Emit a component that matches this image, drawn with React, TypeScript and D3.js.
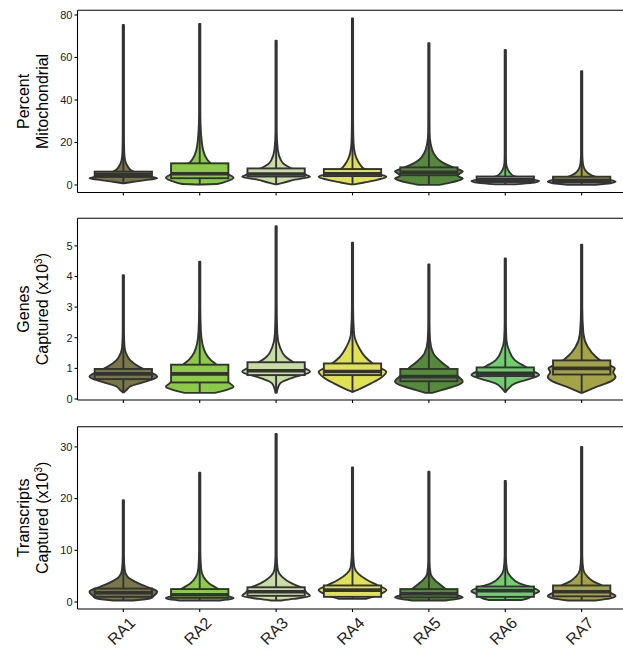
import React from "react";
import * as d3 from "d3";

const categories = ["RA1", "RA2", "RA3", "RA4", "RA5", "RA6", "RA7"];
const fillColors = ["#77774a", "#8bcb46", "#c9dca3", "#dfe255", "#568a3b", "#70cf6c", "#a4a447"];

// box stats per category: [lowerWhisker, q1, median, q3, max]
const mitoBoxes = [
  [0.8, 3.8, 4.8, 6.3, 75.3],
  [0.2, 3.2, 5.3, 10.2, 75.8],
  [0.4, 4.0, 5.2, 7.8, 67.9],
  [0.3, 4.2, 5.3, 7.5, 78.4],
  [0.1, 4.6, 6.0, 8.3, 66.7],
  [0.3, 1.4, 2.4, 4.0, 63.5],
  [0.1, 1.3, 2.2, 3.9, 53.6],
];
// violin profiles: [value, relative half-width]
const mitoViolins = [
  [[0.8, 0], [1.5, 0.3], [2.5, 0.75], [3.2, 1.0], [4.2, 0.7], [5.5, 0.4], [7, 0.22], [9, 0.12], [11.8, 0.05], [16, 0.025], [25, 0.012], [75.3, 0]],
  [[0.2, 0.1], [0.6, 0.55], [1.5, 0.75], [3.4, 1.0], [5, 0.85], [8, 0.55], [10.2, 0.32], [12, 0.22], [16.5, 0.1], [24, 0.04], [33, 0.018], [45, 0.01], [75.8, 0]],
  [[0.3, 0], [1, 0.2], [2.5, 0.55], [3.9, 1.0], [5, 0.85], [6.5, 0.6], [7.8, 0.45], [8.6, 0.36], [10, 0.22], [11.8, 0.14], [16.5, 0.05], [25, 0.015], [67.9, 0]],
  [[0.3, 0.05], [1.2, 0.35], [2.5, 0.75], [3.9, 1.0], [5, 0.8], [6.5, 0.5], [7.5, 0.36], [10.2, 0.2], [12.5, 0.12], [14.9, 0.07], [20, 0.03], [30, 0.012], [78.4, 0]],
  [[0.05, 0.3], [1, 0.6], [2, 0.85], [3.1, 1.0], [4.2, 0.85], [5.2, 0.9], [6.3, 1.0], [7.5, 0.85], [8.3, 0.72], [10.2, 0.45], [12, 0.28], [14.9, 0.14], [19.6, 0.05], [25, 0.02], [35, 0.01], [66.7, 0]],
  [[0.3, 0.3], [1.0, 0.8], [1.9, 1.0], [2.6, 0.8], [3.5, 0.45], [4.2, 0.25], [5.5, 0.15], [7.1, 0.08], [10.2, 0.025], [15, 0.012], [63.5, 0]],
  [[0.1, 0.4], [0.8, 0.85], [1.6, 1.0], [2.5, 0.8], [3.5, 0.5], [4.7, 0.28], [7.1, 0.1], [10.2, 0.035], [15, 0.012], [53.6, 0]],
];

const genesBoxes = [
  [0.2, 0.65, 0.82, 0.98, 4.04],
  [0.2, 0.54, 0.82, 1.12, 4.48],
  [0.2, 0.78, 0.92, 1.2, 5.64],
  [0.2, 0.78, 0.9, 1.16, 5.1],
  [0.2, 0.58, 0.73, 0.98, 4.39],
  [0.2, 0.75, 0.84, 1.03, 4.59],
  [0.2, 0.8, 1.0, 1.26, 5.04],
];
const genesViolins = [
  [[0.22, 0], [0.3, 0.1], [0.4, 0.19], [0.55, 0.6], [0.73, 1.0], [0.9, 0.75], [1.05, 0.47], [1.27, 0.2], [1.49, 0.08], [1.7, 0.035], [2.2, 0.015], [4.04, 0]],
  [[0.2, 0.45], [0.3, 0.8], [0.4, 1.0], [0.5, 0.9], [0.7, 0.72], [0.9, 0.62], [1.11, 0.5], [1.3, 0.3], [1.5, 0.17], [1.8, 0.08], [2.2, 0.035], [3, 0.012], [4.48, 0]],
  [[0.2, 0], [0.35, 0.05], [0.51, 0.12], [0.7, 0.5], [0.89, 1.0], [1.05, 0.75], [1.22, 0.48], [1.38, 0.28], [1.7, 0.11], [2.14, 0.035], [3, 0.012], [5.64, 0]],
  [[0.24, 0], [0.35, 0.25], [0.51, 0.55], [0.7, 0.85], [0.89, 1.0], [1.05, 0.75], [1.16, 0.6], [1.38, 0.37], [1.7, 0.18], [2.14, 0.045], [3, 0.012], [5.1, 0]],
  [[0.2, 0.1], [0.3, 0.4], [0.45, 0.85], [0.57, 1.0], [0.75, 0.85], [1.0, 0.6], [1.16, 0.42], [1.49, 0.13], [1.92, 0.035], [2.5, 0.012], [4.39, 0]],
  [[0.24, 0], [0.35, 0.1], [0.51, 0.29], [0.65, 0.7], [0.78, 1.0], [0.92, 0.8], [1.05, 0.6], [1.27, 0.28], [1.6, 0.11], [1.92, 0.035], [2.5, 0.012], [4.59, 0]],
  [[0.2, 0], [0.4, 0.45], [0.6, 0.9], [0.73, 1.0], [0.87, 0.93], [1.0, 0.98], [1.12, 0.8], [1.24, 0.58], [1.38, 0.42], [1.7, 0.18], [2.14, 0.05], [3, 0.012], [5.04, 0]],
];

const transcriptsBoxes = [
  [0.3, 1.0, 1.8, 2.6, 19.7],
  [0.3, 0.8, 1.4, 2.5, 25.0],
  [0.3, 1.2, 2.0, 2.85, 32.5],
  [0.6, 1.0, 2.3, 3.2, 26.0],
  [0.3, 0.9, 1.6, 2.5, 25.2],
  [0.4, 1.0, 2.2, 3.0, 23.4],
  [0.3, 1.1, 2.0, 3.2, 30.0],
];
const transcriptsViolins = [
  [[0.3, 0.3], [0.7, 0.8], [1.2, 0.9], [2.0, 1.0], [2.8, 0.75], [3.6, 0.45], [4.9, 0.12], [6.2, 0.04], [9, 0.015], [19.7, 0]],
  [[0.3, 0.6], [0.6, 0.95], [0.8, 1.0], [1.1, 0.85], [1.6, 0.7], [2.5, 0.55], [3.6, 0.28], [4.9, 0.11], [6.5, 0.04], [10, 0.015], [25, 0]],
  [[0.3, 0.15], [0.6, 0.5], [1.16, 1.0], [1.8, 0.9], [2.8, 0.75], [3.6, 0.46], [4.9, 0.17], [6.2, 0.05], [9, 0.015], [32.5, 0]],
  [[0.6, 0.4], [1.0, 0.6], [1.6, 0.85], [2.3, 1.0], [3.2, 0.75], [4.3, 0.42], [5.5, 0.17], [6.8, 0.05], [10, 0.015], [26, 0]],
  [[0.3, 0.5], [0.6, 0.85], [0.9, 1.0], [1.3, 0.85], [1.8, 0.65], [2.5, 0.5], [3.4, 0.33], [4.3, 0.17], [5.5, 0.05], [8, 0.015], [25.2, 0]],
  [[0.4, 0.5], [0.8, 0.7], [1.4, 0.8], [2.1, 1.0], [3.0, 0.7], [3.6, 0.42], [4.9, 0.16], [6.2, 0.05], [9, 0.015], [23.4, 0]],
  [[0.3, 0.4], [0.7, 0.85], [1.16, 1.0], [1.8, 0.85], [2.6, 0.7], [3.2, 0.6], [4.0, 0.34], [4.9, 0.17], [6.2, 0.05], [9, 0.015], [30, 0]],
];

const mitoTicks = [0, 20, 40, 60, 80];
const genesTicks = [0, 1, 2, 3, 4, 5];
const transcriptsTicks = [0, 10, 20, 30];

const panels = [
  { lines: ["Percent", "Mitochondrial"], sup: false, domain: [-3.53, 82.2], ticks: mitoTicks, top: 10.3, bottom: 192.5, boxes: mitoBoxes, violins: mitoViolins },
  { lines: ["Genes", "Captured (x10"], sup: true, domain: [-0.033, 5.9], ticks: genesTicks, top: 218.3, bottom: 400, boxes: genesBoxes, violins: genesViolins },
  { lines: ["Transcripts", "Captured (x10"], sup: true, domain: [-1.35, 33.9], ticks: transcriptsTicks, top: 426.7, bottom: 609, boxes: transcriptsBoxes, violins: transcriptsViolins },
];

const W = 623;
const HGT = 651;
const LEFT = 77.5;
const FONT = "'Liberation Sans', Arial, Helvetica, sans-serif";
const DARK = "#333333";
const SW = 1.9;

export default function App() {
  const x = d3.scalePoint<string>().domain(categories).range([LEFT, 627.5]).padding(0.6);
  const step = x.step();
  const vHalf = step * 0.45 - 0.5;
  const bHalf = step * 0.375;

  return (
    <svg width={W} height={HGT} style={{ position: "absolute", left: 0, top: 0, display: "block", background: "#fff" }} fontFamily={FONT}>
      {panels.map((p, pi) => {
        const y = d3.scaleLinear().domain(p.domain).range([p.bottom, p.top]);
        const mid = (p.top + p.bottom) / 2;
        return (
          <g key={pi}>
            {categories.map((c, ci) => {
              const cx = x(c) as number;
              const prof = p.violins[ci] as number[][];
              const area = d3
                .area<number[]>()
                .y((d) => y(d[0]))
                .x0((d) => cx - Math.max(d[1] * vHalf, 0.6))
                .x1((d) => cx + Math.max(d[1] * vHalf, 0.6))
                .curve(d3.curveMonotoneY);
              const b = p.boxes[ci];
              return (
                <g key={c}>
                  <path d={area(prof) || ""} fill={fillColors[ci]} stroke={DARK} strokeWidth={SW} strokeLinejoin="round" />
                  <line x1={cx} x2={cx} y1={y(b[1])} y2={y(b[0])} stroke={DARK} strokeWidth={SW} />
                  <line x1={cx} x2={cx} y1={y(b[3])} y2={y(b[4])} stroke={DARK} strokeWidth={SW} />
                  <rect x={cx - bHalf} width={bHalf * 2} y={y(b[3])} height={y(b[1]) - y(b[3])} fill={fillColors[ci]} stroke={DARK} strokeWidth={SW} />
                  <line x1={cx - bHalf} x2={cx + bHalf} y1={y(b[2])} y2={y(b[2])} stroke={DARK} strokeWidth={3.6} />
                </g>
              );
            })}
            <line x1={LEFT} x2={W} y1={p.top} y2={p.top} stroke="#000" strokeWidth={1.1} />
            <line x1={LEFT} x2={LEFT} y1={p.top} y2={p.bottom} stroke="#000" strokeWidth={1.1} />
            <line x1={LEFT} x2={W} y1={p.bottom} y2={p.bottom} stroke="#000" strokeWidth={1.1} />
            {p.ticks.map((t) => (
              <g key={t}>
                <line x1={LEFT - 3} x2={LEFT} y1={y(t)} y2={y(t)} stroke="#000" strokeWidth={1.1} />
                <text x={LEFT - 5} y={y(t)} dy="0.35em" textAnchor="end" fontSize={11} fill="#222">
                  {t}
                </text>
              </g>
            ))}
            {categories.map((c) => (
              <line key={c} x1={x(c)} x2={x(c)} y1={p.bottom} y2={p.bottom + 3} stroke="#000" strokeWidth={1.1} />
            ))}
            <text transform={`translate(28.5,${mid}) rotate(-90)`} textAnchor="middle" fontSize={16} fill="#000">
              {p.lines[0]}
            </text>
            <text transform={`translate(47.5,${mid}) rotate(-90)`} textAnchor="middle" fontSize={16} fill="#000">
              {p.lines[1]}
              {p.sup ? (
                <>
                  <tspan dy={-6} fontSize={10}>3</tspan>
                  <tspan dy={6}>)</tspan>
                </>
              ) : null}
            </text>
            {pi === panels.length - 1
              ? categories.map((c) => (
                  <text
                    key={c}
                    transform={`translate(${(x(c) as number) + 5},${p.bottom + 7}) rotate(-45)`}
                    textAnchor="end"
                    dominantBaseline="hanging"
                    fontSize={16}
                    fill="#222"
                  >
                    {c}
                  </text>
                ))
              : null}
          </g>
        );
      })}
    </svg>
  );
}
